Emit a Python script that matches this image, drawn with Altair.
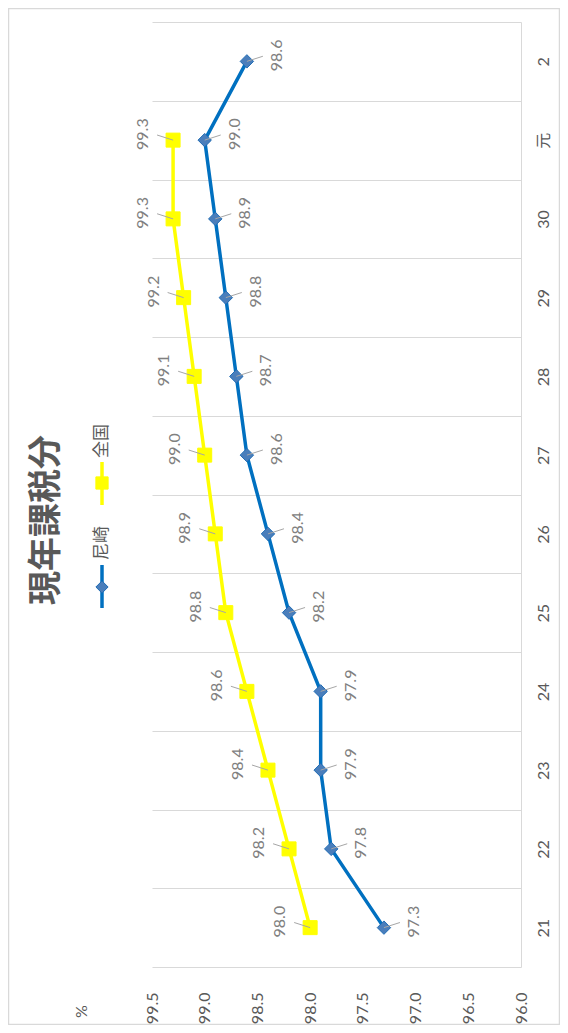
import altair as alt
import pandas as pd

categories = ["21", "22", "23", "24", "25", "26", "27", "28", "29", "30", "元", "2"]
amagasaki = [97.3, 97.8, 97.9, 97.9, 98.2, 98.4, 98.6, 98.7, 98.8, 98.9, 99.0, 98.6]
zenkoku = [98.0, 98.2, 98.4, 98.6, 98.8, 98.9, 99.0, 99.1, 99.2, 99.3, 99.3, None]
series_names = ["尼崎", "全国"]
value_ticks = [96.0, 96.5, 97.0, 97.5, 98.0, 98.5, 99.0, 99.5]
chart_title = "現年課税分"
value_unit = "%"

rows = []
for c, a, z in zip(categories, amagasaki, zenkoku):
    rows.append({"cat": c, "series": series_names[0], "value": a})
    if z is not None:
        rows.append({"cat": c, "series": series_names[1], "value": z})
df = pd.DataFrame(rows)

GRID = "#d9d9d9"
TXT = "#595959"
LBL = "#808080"
NUMFONT = "Lato, Noto Sans CJK JP"
CJK = "Noto Sans CJK JP"

x_enc = alt.X(
    "value:Q",
    scale=alt.Scale(domain=[96, 99.5], reverse=True, nice=False, zero=False),
    axis=alt.Axis(
        values=value_ticks, format=".1f", labelAngle=270, labelAlign="right",
        labelBaseline="middle", labelPadding=25, ticks=False, tickSize=0,
        domain=False, grid=False, labelFont=NUMFONT, labelFontSize=16,
        labelColor=TXT, title=value_unit, titleAngle=270, titleX=-71, titleY=44,
        titleAlign="center", titleBaseline="middle", titleFont=NUMFONT,
        titleFontSize=16, titleFontWeight="normal", titleColor=TXT,
    ),
)
y_enc = alt.Y(
    "cat:N",
    sort=categories[::-1],
    scale=alt.Scale(paddingInner=0, paddingOuter=0),
    axis=alt.Axis(
        orient="right", tickBand="extent", grid=True, gridColor=GRID, gridWidth=1,
        ticks=False, tickSize=0, domain=True, domainColor=GRID, domainWidth=1,
        labelAngle=270, labelAlign="center", labelBaseline="middle",
        labelPadding=22, labelFont=NUMFONT, labelFontSize=16, labelColor=TXT,
        title=None,
    ),
)

base = alt.Chart(df).encode(x=x_enc, y=y_enc)

lines = base.mark_line(strokeWidth=3.5).encode(
    color=alt.Color("series:N", scale=alt.Scale(domain=series_names, range=["#0070C0", "#FFFF00"]), legend=None),
    detail="series:N",
)
points = base.mark_point(filled=True, strokeWidth=1, opacity=1).encode(
    fill=alt.Fill("series:N", scale=alt.Scale(domain=series_names, range=["#4A7EBB", "#FFFF00"]), legend=None),
    stroke=alt.Stroke("series:N", scale=alt.Scale(domain=series_names, range=["#1F6CB5", "#FFFF00"]), legend=None),
    shape=alt.Shape("series:N", scale=alt.Scale(domain=series_names, range=["diamond", "square"]), legend=None),
    size=alt.Size("series:N", scale=alt.Scale(domain=series_names, range=[180, 196]), legend=None),
)
leaders_a = base.mark_point(
    filled=False, color="#a6a6a6", strokeWidth=1, opacity=1, size=1024, shape="M0,0L1,-0.32"
).transform_filter(alt.datum.series == series_names[0])
leaders_z = base.mark_point(
    filled=False, color="#a6a6a6", strokeWidth=1, opacity=1, size=1024, shape="M0,0L-1,-0.32"
).transform_filter(alt.datum.series == series_names[1])
labels_a = base.mark_text(
    angle=270, align="center", baseline="middle", xOffset=30, yOffset=-6,
    font=NUMFONT, fontSize=16, color=LBL,
).encode(text=alt.Text("value:Q", format=".1f")).transform_filter(
    alt.datum.series == series_names[0]
)
labels_z = base.mark_text(
    angle=270, align="center", baseline="middle", xOffset=-30, yOffset=-6,
    font=NUMFONT, fontSize=16, color=LBL,
).encode(text=alt.Text("value:Q", format=".1f")).transform_filter(
    alt.datum.series == series_names[1]
)

one = alt.Data(values=[{"t": chart_title}])
title = alt.Chart(one).mark_text(
    angle=270, align="center", baseline="middle", font=CJK, fontSize=34,
    fontWeight="bold", color=TXT,
).encode(x=alt.value(-105), y=alt.value(498), text="t:N")

border = alt.Chart(one).mark_rect(fill=None, stroke=GRID, strokeWidth=1.5).encode(
    x=alt.value(-143.5), x2=alt.value(407.5), y=alt.value(-13.5), y2=alt.value(1002.5)
)

leg_df = pd.DataFrame({"series": series_names})
leg_layers = []
leg_specs = [
    (series_names[0], "#0070C0", "diamond", "#4A7EBB", "#1F6CB5", 150, 543, 586, 565, 538),
    (series_names[1], "#FFFF00", "square", "#FFFF00", "#FFFF00", 150, 440, 483, 461, 436),
]
for name, lc, shp, fc, sc, sz, y1, y2, ym, yt in leg_specs:
    d = alt.Chart(leg_df).transform_filter(alt.datum.series == name)
    leg_layers.append(d.mark_rule(color=lc, strokeWidth=3.5).encode(
        x=alt.value(-50), y=alt.value(y1), y2=alt.value(y2)))
    leg_layers.append(d.mark_point(shape=shp, filled=True, fill=fc, stroke=sc, strokeWidth=1, opacity=1, size=sz).encode(
        x=alt.value(-50), y=alt.value(ym)))
    leg_layers.append(d.mark_text(angle=270, align="left", baseline="middle", font=CJK, fontSize=17, color=TXT).encode(
        x=alt.value(-50), y=alt.value(yt), text="series:N"))

chart = alt.layer(
    border, lines, points, leaders_a, leaders_z, labels_a, labels_z, title, *leg_layers
).properties(
    width=369, height=945,
    padding={"left": 144, "top": 14, "right": 39, "bottom": 58},
    autosize=alt.AutoSizeParams(type="none"),
    background="white",
).configure_view(stroke=None)

chart.save("out.html", embed_options={"renderer": "svg", "actions": False})
